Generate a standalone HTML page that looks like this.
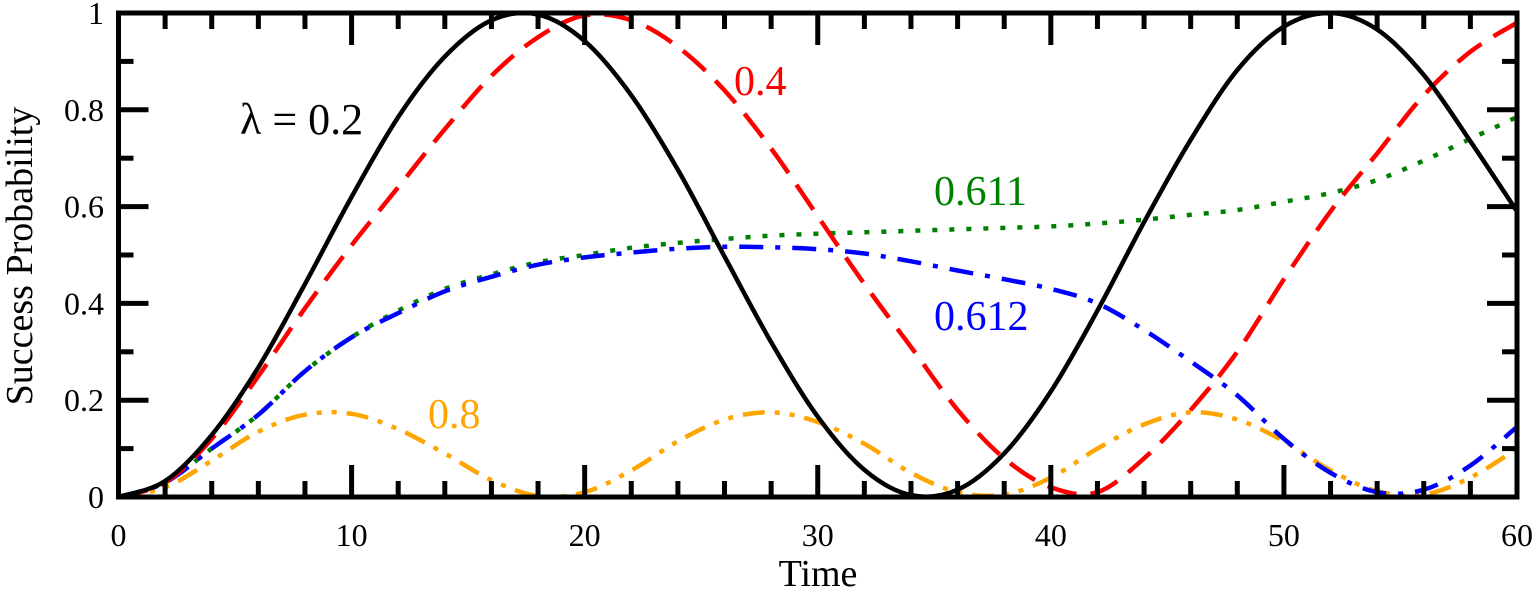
<!DOCTYPE html>
<html><head><meta charset="utf-8">
<style>
html,body{margin:0;padding:0;background:#fff;}
svg{display:block;}
text{font-family:"Liberation Serif","Times New Roman",serif;}
</style></head>
<body>
<svg id="chart" width="1535" height="590" viewBox="0 0 1535 590" xmlns="http://www.w3.org/2000/svg">
<g id="series"></g>
<g id="axes"></g>
<text font-family="Liberation Serif, serif" x="0" y="0" transform="translate(32,256) rotate(-90)" text-anchor="middle" font-size="38">Success Probability</text>
<text font-family="Liberation Serif, serif" x="818" y="586" text-anchor="middle" font-size="38">Time</text>
<text font-family="Liberation Serif, serif" x="240" y="134" font-size="44" fill="#000">λ = 0.2</text>
<text font-family="Liberation Serif, serif" x="734" y="95" font-size="42" fill="#ff0000">0.4</text>
<text font-family="Liberation Serif, serif" x="934" y="205" font-size="42" fill="#008000">0.611</text>
<text font-family="Liberation Serif, serif" x="934" y="330" font-size="42" fill="#0000ff">0.612</text>
<text font-family="Liberation Serif, serif" x="428" y="428" font-size="42" fill="#ffa500">0.8</text>
</svg>
<script>
const times = [0,2,4,6,8,10,12,14,16,18,20,22,24,26,28,30,32,34,36,38,40,42,44,46,48,50,52,54,56,58,60];
const lambda02 = [0,0.033,0.128,0.268,0.44,0.62,0.785,0.91,0.985,0.997,0.942,0.83,0.676,0.497,0.32,0.166,0.056,0.004,0.015,0.09,0.218,0.385,0.568,0.738,0.882,0.972,1.0,0.966,0.872,0.735,0.59];
const lambda04 = [0,0.03,0.12,0.25,0.39,0.52,0.64,0.76,0.87,0.95,0.995,0.985,0.93,0.84,0.72,0.58,0.44,0.31,0.18,0.08,0.02,0.01,0.08,0.18,0.30,0.45,0.59,0.71,0.83,0.92,0.98];
const lambda0611 = [0,0.03,0.1,0.17,0.26,0.33,0.385,0.43,0.46,0.485,0.50,0.515,0.525,0.533,0.54,0.544,0.547,0.55,0.553,0.556,0.559,0.565,0.573,0.583,0.593,0.61,0.628,0.655,0.695,0.74,0.785];
const lambda0612 = [0,0.03,0.1,0.17,0.26,0.33,0.38,0.425,0.455,0.48,0.495,0.505,0.513,0.517,0.516,0.512,0.503,0.487,0.468,0.45,0.43,0.40,0.345,0.28,0.21,0.12,0.05,0.01,0.015,0.065,0.145];
const lambda08 = [0,0.02,0.075,0.135,0.17,0.172,0.14,0.09,0.035,0.002,0.01,0.055,0.115,0.16,0.175,0.155,0.11,0.05,0.01,0.005,0.04,0.1,0.15,0.175,0.16,0.115,0.055,0.012,0.005,0.04,0.10];
const xTicks = [0,10,20,30,40,50,60];
const yTicks = [0,0.2,0.4,0.6,0.8,1];
const yTickLabels = ["0","0.2","0.4","0.6","0.8","1"];

const X0=118.5, X1=1517, Y0=497, Y1=13;
function sx(t){return X0+(t-0)/(60-0)*(X1-X0);}
function sy(v){return Y0-(v-0)/(1-0)*(Y0-Y1);}
const NS="http://www.w3.org/2000/svg";
function mk(tag,attrs,parent){const e=document.createElementNS(NS,tag);for(const k in attrs)e.setAttribute(k,attrs[k]);parent.appendChild(e);return e;}
function pathFor(ys){
  const p=times.map((t,i)=>[sx(t),sy(ys[i])]);
  let d="M"+p[0][0].toFixed(1)+","+p[0][1].toFixed(1);
  for(let i=0;i<p.length-1;i++){
    const a=p[i-1]||p[i],b=p[i],c=p[i+1],e=p[i+2]||c;
    const c1=[b[0]+(c[0]-a[0])/6,b[1]+(c[1]-a[1])/6];
    const c2=[c[0]-(e[0]-b[0])/6,c[1]-(e[1]-b[1])/6];
    d+=" C"+c1[0].toFixed(1)+","+c1[1].toFixed(1)+" "+c2[0].toFixed(1)+","+c2[1].toFixed(1)+" "+c[0].toFixed(1)+","+c[1].toFixed(1);
  }
  return d;
}
const sg=document.getElementById('series');
const defs=[
 [lambda08,"#ffa500","22,10,5,10,5,10","series-lambda-0.8"],
 [lambda0611,"#008000","5,12","series-lambda-0.611"],
 [lambda0612,"#0000ff","24,12,5,12","series-lambda-0.612"],
 [lambda04,"#ff0000","30,14","series-lambda-0.4"],
 [lambda02,"#000000","none","series-lambda-0.2"]
];
const clip=mk('clipPath',{id:'pc'},sg);
mk('rect',{x:X0,y:Y1,width:X1-X0,height:Y0-Y1},clip);
defs.forEach(s=>{
  const el=mk('path',{d:pathFor(s[0]),fill:"none",stroke:s[1],"stroke-width":4.5,"stroke-dasharray":s[2],"clip-path":"url(#pc)"},sg);
  
  
});
const ag=document.getElementById('axes');
const fr=mk('rect',{x:X0,y:Y1,width:X1-X0,height:Y0-Y1,fill:"none",stroke:"#000","stroke-width":5},ag);


for(let t=0;t<=60;t+=2){
  const major=(t%10===0);const L=major?32:16;
  const x=sx(t);
  mk('line',{x1:x,y1:Y0,x2:x,y2:Y0-L,stroke:"#000","stroke-width":5},ag);
  mk('line',{x1:x,y1:Y1,x2:x,y2:Y1+L,stroke:"#000","stroke-width":5},ag);
}
xTicks.forEach(t=>{
  const tx=mk('text',{x:sx(t),y:546,"text-anchor":"middle","font-size":32,"font-family":"Liberation Serif, serif"},ag);
  tx.textContent=String(t);
  
  
});
for(let k=0;k<=10;k++){
  const v=k/10;const major=(k%2===0);const L=major?30:15;const y=sy(v);
  mk('line',{x1:X0,y1:y,x2:X0+L,y2:y,stroke:"#000","stroke-width":5},ag);
  mk('line',{x1:X1,y1:y,x2:X1-L,y2:y,stroke:"#000","stroke-width":5},ag);
}
yTicks.forEach((v,i)=>{
  const tx=mk('text',{x:104,y:sy(v)+11,"text-anchor":"end","font-size":32,"font-family":"Liberation Serif, serif"},ag);
  tx.textContent=yTickLabels[i];
  
  
});
</script>
</body></html>
